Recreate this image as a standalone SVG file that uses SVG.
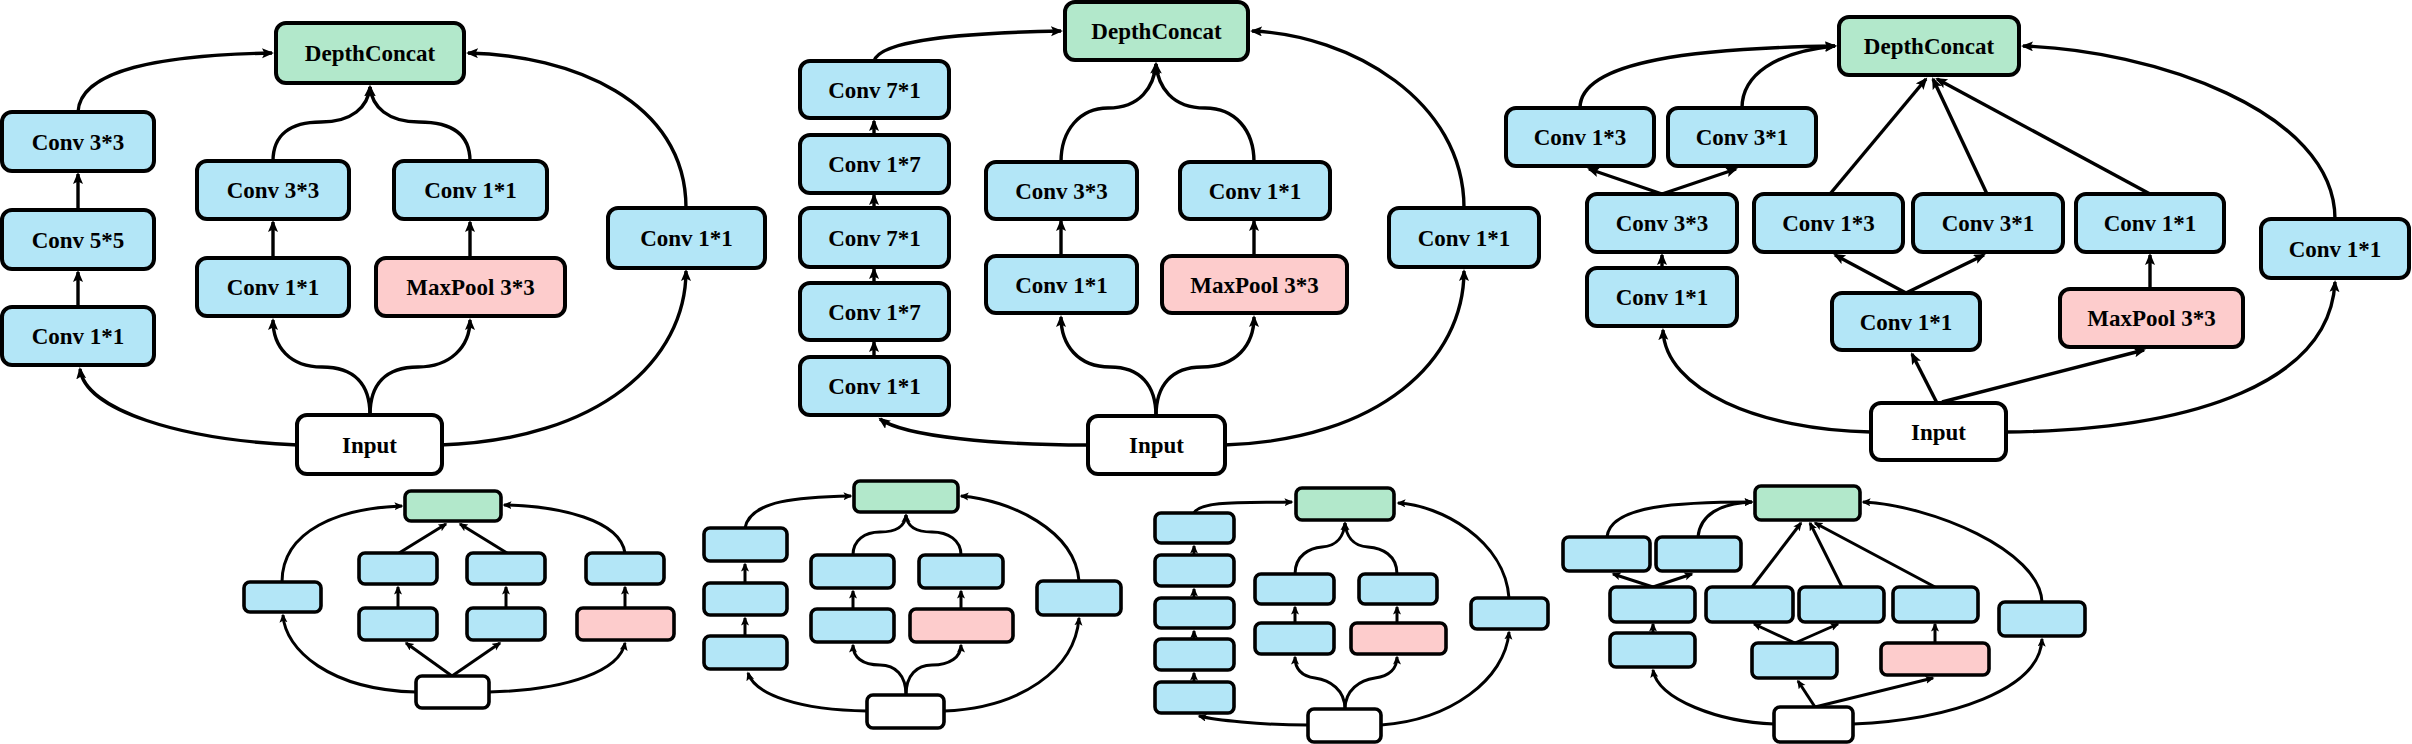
<svg xmlns="http://www.w3.org/2000/svg" width="2412" height="744" viewBox="0 0 2412 744">
<defs>
<marker id="a" markerUnits="userSpaceOnUse" markerWidth="13" markerHeight="11" refX="10" refY="5" orient="auto"><path d="M0,0 L12,5 L0,10 L2.5,5 z" fill="#000"/></marker>
<marker id="b" markerUnits="userSpaceOnUse" markerWidth="10" markerHeight="9" refX="7.5" refY="4" orient="auto"><path d="M0,0 L9,4 L0,8 L2,4 z" fill="#000"/></marker>
</defs>
<style>
.n rect{stroke:#000;stroke-width:4}
.s rect{stroke:#000;stroke-width:3.6}
.g{fill:#b2e8cb}.bl{fill:#b3e6f7}.pk{fill:#fdcccc}.w{fill:#fff}
text{font-family:"Liberation Serif","Times New Roman",serif;font-weight:bold;font-size:23px;text-anchor:middle;fill:#000}
.c path{fill:none;stroke:#000;stroke-width:3.4;marker-end:url(#a)}
.cs path{fill:none;stroke:#000;stroke-width:3;marker-end:url(#b)}
</style>

<!-- Diagram 1 -->
<g class="c" id="d1-connectors">
<path d="M78,112 C80,70 160,55 272,53"/>
<path d="M78,210 L78,174"/>
<path d="M78,307 L78,272"/>
<path d="M298,445 C180,440 85,410 80,369"/>
<path d="M370,415 C370,385 355,367 322,367 C290,367 273,347 273,320"/>
<path d="M370,415 C370,385 385,367 418,367 C450,367 470,347 470,320"/>
<path d="M273,258 L273,222"/>
<path d="M470,258 L470,222"/>
<path d="M273,161 C273,135 290,122 321,122 C352,122 368,107 370,87"/>
<path d="M470,161 C470,135 453,122 419,122 C388,122 372,107 370,87"/>
<path d="M440,445 C600,440 686,360 686,271"/>
<path d="M686,208 C686,100 570,55 468,53"/>
</g>
<g class="n" id="d1-concat"><rect class="g" x="276" y="23" width="188" height="60" rx="10"/><text x="370" y="61">DepthConcat</text></g>
<g class="n" id="d1-conv33a"><rect class="bl" x="2" y="112" width="152" height="59" rx="10"/><text x="78" y="149.5">Conv 3*3</text></g>
<g class="n" id="d1-conv55"><rect class="bl" x="2" y="210" width="152" height="59" rx="10"/><text x="78" y="247.5">Conv 5*5</text></g>
<g class="n" id="d1-conv11a"><rect class="bl" x="2" y="307" width="152" height="58" rx="10"/><text x="78" y="344">Conv 1*1</text></g>
<g class="n" id="d1-conv33b"><rect class="bl" x="197" y="161" width="152" height="58" rx="10"/><text x="273" y="198">Conv 3*3</text></g>
<g class="n" id="d1-conv11b"><rect class="bl" x="197" y="258" width="152" height="58" rx="10"/><text x="273" y="295">Conv 1*1</text></g>
<g class="n" id="d1-conv11c"><rect class="bl" x="394" y="161" width="153" height="58" rx="10"/><text x="470.5" y="198">Conv 1*1</text></g>
<g class="n" id="d1-maxpool"><rect class="pk" x="376" y="258" width="189" height="58" rx="10"/><text x="470.5" y="295">MaxPool 3*3</text></g>
<g class="n" id="d1-conv11d"><rect class="bl" x="608" y="208" width="157" height="60" rx="10"/><text x="686.5" y="246">Conv 1*1</text></g>
<g class="n" id="d1-input"><rect class="w" x="297" y="415" width="145" height="59" rx="10"/><text x="369.5" y="452.5">Input</text></g>

<!-- Diagram 2 -->
<g class="c" id="d2-connectors">
<path d="M874,61 C880,40 960,33 1061,31"/>
<path d="M874,135 L874,121"/>
<path d="M874,208 L874,195"/>
<path d="M874,283 L874,269"/>
<path d="M874,357 L874,342"/>
<path d="M1087,445 C1000,445 905,437 880,419"/>
<path d="M1156,416 C1156,385 1140,367 1110,367 C1078,367 1061,345 1061,317"/>
<path d="M1156,416 C1156,385 1172,367 1202,367 C1236,367 1254,345 1254,317"/>
<path d="M1061,256 L1061,221"/>
<path d="M1254,256 L1254,221"/>
<path d="M1061,162 C1061,130 1080,108 1108,108 C1140,108 1154,87 1156,64"/>
<path d="M1254,162 C1254,130 1235,108 1205,108 C1172,108 1158,87 1156,64"/>
<path d="M1224,445 C1380,440 1464,360 1464,271"/>
<path d="M1464,208 C1464,100 1350,35 1252,31"/>
</g>
<g class="n" id="d2-concat"><rect class="g" x="1065" y="2" width="183" height="58" rx="10"/><text x="1156.5" y="39">DepthConcat</text></g>
<g class="n" id="d2-conv71a"><rect class="bl" x="800" y="61" width="149" height="57" rx="10"/><text x="874.5" y="97.5">Conv 7*1</text></g>
<g class="n" id="d2-conv17a"><rect class="bl" x="800" y="135" width="149" height="58" rx="10"/><text x="874.5" y="172">Conv 1*7</text></g>
<g class="n" id="d2-conv71b"><rect class="bl" x="800" y="208" width="149" height="59" rx="10"/><text x="874.5" y="245.5">Conv 7*1</text></g>
<g class="n" id="d2-conv17b"><rect class="bl" x="800" y="283" width="149" height="57" rx="10"/><text x="874.5" y="319.5">Conv 1*7</text></g>
<g class="n" id="d2-conv11a"><rect class="bl" x="800" y="357" width="149" height="58" rx="10"/><text x="874.5" y="394">Conv 1*1</text></g>
<g class="n" id="d2-conv33"><rect class="bl" x="986" y="162" width="151" height="57" rx="10"/><text x="1061.5" y="198.5">Conv 3*3</text></g>
<g class="n" id="d2-conv11b"><rect class="bl" x="986" y="256" width="151" height="57" rx="10"/><text x="1061.5" y="292.5">Conv 1*1</text></g>
<g class="n" id="d2-conv11c"><rect class="bl" x="1180" y="162" width="150" height="57" rx="10"/><text x="1255" y="198.5">Conv 1*1</text></g>
<g class="n" id="d2-maxpool"><rect class="pk" x="1162" y="256" width="185" height="57" rx="10"/><text x="1254.5" y="292.5">MaxPool 3*3</text></g>
<g class="n" id="d2-conv11d"><rect class="bl" x="1389" y="208" width="150" height="59" rx="10"/><text x="1464" y="245.5">Conv 1*1</text></g>
<g class="n" id="d2-input"><rect class="w" x="1088" y="416" width="137" height="58" rx="10"/><text x="1156.5" y="453">Input</text></g>

<!-- Diagram 3 -->
<g class="c" id="d3-connectors">
<path d="M1580,108 C1580,60 1700,48 1835,46"/>
<path d="M1742,108 C1742,75 1775,52 1835,46"/>
<path d="M1662,194 L1589,169"/>
<path d="M1662,194 L1736,169"/>
<path d="M1662,268 L1662,255"/>
<path d="M1871,432 C1760,430 1665,390 1663,330"/>
<path d="M1937,403 L1912,354"/>
<path d="M1942,402 L2144,350"/>
<path d="M1906,293 L1835,255"/>
<path d="M1906,293 L1984,255"/>
<path d="M2150,289 L2150,255"/>
<path d="M1830,194 L1926,79"/>
<path d="M1987,194 L1933,79"/>
<path d="M2150,194 L1937,79"/>
<path d="M2006,432 C2200,430 2330,380 2335,282"/>
<path d="M2335,219 C2335,110 2150,50 2023,46"/>
</g>
<g class="n" id="d3-concat"><rect class="g" x="1839" y="17" width="180" height="58" rx="10"/><text x="1929" y="54">DepthConcat</text></g>
<g class="n" id="d3-conv13a"><rect class="bl" x="1506" y="108" width="148" height="58" rx="10"/><text x="1580" y="145">Conv 1*3</text></g>
<g class="n" id="d3-conv31a"><rect class="bl" x="1668" y="108" width="148" height="58" rx="10"/><text x="1742" y="145">Conv 3*1</text></g>
<g class="n" id="d3-conv33"><rect class="bl" x="1587" y="194" width="150" height="58" rx="10"/><text x="1662" y="231">Conv 3*3</text></g>
<g class="n" id="d3-conv11a"><rect class="bl" x="1587" y="268" width="150" height="58" rx="10"/><text x="1662" y="305">Conv 1*1</text></g>
<g class="n" id="d3-conv13b"><rect class="bl" x="1754" y="194" width="149" height="58" rx="10"/><text x="1828.5" y="231">Conv 1*3</text></g>
<g class="n" id="d3-conv31b"><rect class="bl" x="1913" y="194" width="150" height="58" rx="10"/><text x="1988" y="231">Conv 3*1</text></g>
<g class="n" id="d3-conv11b"><rect class="bl" x="2076" y="194" width="148" height="58" rx="10"/><text x="2150" y="231">Conv 1*1</text></g>
<g class="n" id="d3-conv11c"><rect class="bl" x="1832" y="293" width="148" height="57" rx="10"/><text x="1906" y="329.5">Conv 1*1</text></g>
<g class="n" id="d3-maxpool"><rect class="pk" x="2060" y="289" width="183" height="58" rx="10"/><text x="2151.5" y="326">MaxPool 3*3</text></g>
<g class="n" id="d3-conv11d"><rect class="bl" x="2261" y="219" width="148" height="59" rx="10"/><text x="2335" y="256.5">Conv 1*1</text></g>
<g class="n" id="d3-input"><rect class="w" x="1871" y="403" width="135" height="57" rx="10"/><text x="1938.5" y="439.5">Input</text></g>

<!-- Bottom A -->
<g class="cs" id="ba-connectors">
<path d="M282,582 C282,530 340,508 402,506"/>
<path d="M416,692 C330,690 285,650 283,615"/>
<path d="M452,676 L406,643"/>
<path d="M452,676 L500,643"/>
<path d="M398,608 L398,587"/>
<path d="M506,608 L506,587"/>
<path d="M625,608 L625,587"/>
<path d="M399,553 L446,524"/>
<path d="M507,553 L460,524"/>
<path d="M489,692 C570,690 620,670 625,643"/>
<path d="M625,553 C620,520 560,506 504,505"/>
</g>
<g class="s" id="ba-concat"><rect class="g" x="405" y="491" width="96" height="30" rx="6"/></g>
<g class="s" id="ba-n1"><rect class="bl" x="244" y="582" width="77" height="30" rx="6"/></g>
<g class="s" id="ba-n2"><rect class="bl" x="359" y="553" width="78" height="31" rx="6"/></g>
<g class="s" id="ba-n3"><rect class="bl" x="359" y="608" width="78" height="32" rx="6"/></g>
<g class="s" id="ba-n4"><rect class="bl" x="467" y="553" width="78" height="31" rx="6"/></g>
<g class="s" id="ba-n5"><rect class="bl" x="467" y="608" width="78" height="32" rx="6"/></g>
<g class="s" id="ba-n6"><rect class="bl" x="586" y="553" width="78" height="31" rx="6"/></g>
<g class="s" id="ba-n7"><rect class="pk" x="577" y="608" width="97" height="32" rx="6"/></g>
<g class="s" id="ba-input"><rect class="w" x="416" y="676" width="73" height="32" rx="6"/></g>

<!-- Bottom B -->
<g class="cs" id="bb-connectors">
<path d="M745,528 C750,500 800,497 851,496"/>
<path d="M745,583 L745,564"/>
<path d="M745,636 L745,618"/>
<path d="M867,711 C800,710 755,695 748,673"/>
<path d="M906,695 C906,675 895,665 880,665 C862,665 853,657 853,645"/>
<path d="M906,695 C906,675 917,665 932,665 C950,665 961,657 961,645"/>
<path d="M853,609 L853,591"/>
<path d="M961,609 L961,591"/>
<path d="M853,555 C853,540 865,532 880,532 C895,532 905,527 906,515"/>
<path d="M961,555 C961,540 948,532 932,532 C917,532 907,527 906,515"/>
<path d="M944,711 C1020,708 1075,670 1079,618"/>
<path d="M1079,581 C1075,530 1010,500 961,496"/>
</g>
<g class="s" id="bb-concat"><rect class="g" x="854" y="481" width="104" height="31" rx="6"/></g>
<g class="s" id="bb-n1"><rect class="bl" x="704" y="528" width="83" height="33" rx="6"/></g>
<g class="s" id="bb-n2"><rect class="bl" x="704" y="583" width="83" height="32" rx="6"/></g>
<g class="s" id="bb-n3"><rect class="bl" x="704" y="636" width="83" height="33" rx="6"/></g>
<g class="s" id="bb-n4"><rect class="bl" x="811" y="555" width="83" height="33" rx="6"/></g>
<g class="s" id="bb-n5"><rect class="bl" x="811" y="609" width="83" height="33" rx="6"/></g>
<g class="s" id="bb-n6"><rect class="bl" x="919" y="555" width="84" height="33" rx="6"/></g>
<g class="s" id="bb-n7"><rect class="pk" x="910" y="609" width="103" height="33" rx="6"/></g>
<g class="s" id="bb-n8"><rect class="bl" x="1037" y="581" width="84" height="34" rx="6"/></g>
<g class="s" id="bb-input"><rect class="w" x="867" y="695" width="77" height="33" rx="6"/></g>

<!-- Bottom C -->
<g class="cs" id="bc-connectors">
<path d="M1194,513 C1200,500 1250,503 1292,502"/>
<path d="M1194,555 L1194,546"/>
<path d="M1194,598 L1194,589"/>
<path d="M1194,639 L1194,631"/>
<path d="M1194,682 L1194,673"/>
<path d="M1308,725 C1260,725 1215,720 1199,716"/>
<path d="M1345,709 C1345,690 1330,680 1315,678 C1300,676 1295,668 1295,657"/>
<path d="M1345,709 C1345,690 1360,680 1375,678 C1390,676 1397,668 1397,657"/>
<path d="M1295,623 L1295,607"/>
<path d="M1397,623 L1397,607"/>
<path d="M1295,574 C1295,555 1310,548 1322,547 C1338,546 1344,535 1345,523"/>
<path d="M1397,574 C1397,555 1382,548 1368,547 C1352,546 1346,535 1345,523"/>
<path d="M1381,725 C1450,720 1505,680 1509,632"/>
<path d="M1509,598 C1505,540 1440,505 1398,503"/>
</g>
<g class="s" id="bc-concat"><rect class="g" x="1296" y="488" width="98" height="32" rx="6"/></g>
<g class="s" id="bc-n1"><rect class="bl" x="1155" y="513" width="79" height="30" rx="6"/></g>
<g class="s" id="bc-n2"><rect class="bl" x="1155" y="555" width="79" height="31" rx="6"/></g>
<g class="s" id="bc-n3"><rect class="bl" x="1155" y="598" width="79" height="30" rx="6"/></g>
<g class="s" id="bc-n4"><rect class="bl" x="1155" y="639" width="79" height="31" rx="6"/></g>
<g class="s" id="bc-n5"><rect class="bl" x="1155" y="682" width="79" height="31" rx="6"/></g>
<g class="s" id="bc-n6"><rect class="bl" x="1255" y="574" width="79" height="30" rx="6"/></g>
<g class="s" id="bc-n7"><rect class="bl" x="1255" y="623" width="79" height="31" rx="6"/></g>
<g class="s" id="bc-n8"><rect class="bl" x="1359" y="574" width="78" height="30" rx="6"/></g>
<g class="s" id="bc-n9"><rect class="pk" x="1351" y="623" width="95" height="31" rx="6"/></g>
<g class="s" id="bc-n10"><rect class="bl" x="1471" y="598" width="77" height="31" rx="6"/></g>
<g class="s" id="bc-input"><rect class="w" x="1308" y="709" width="73" height="33" rx="6"/></g>

<!-- Bottom D -->
<g class="cs" id="bd-connectors">
<path d="M1607,537 C1610,505 1680,502 1752,502"/>
<path d="M1698,537 C1700,515 1720,503 1752,502"/>
<path d="M1653,587 L1613,574"/>
<path d="M1653,587 L1692,574"/>
<path d="M1653,633 L1653,624"/>
<path d="M1774,724 C1720,722 1658,700 1653,670"/>
<path d="M1815,707 L1798,681"/>
<path d="M1815,707 L1933,678"/>
<path d="M1795,643 L1754,624"/>
<path d="M1795,643 L1838,624"/>
<path d="M1935,643 L1935,624"/>
<path d="M1752,587 L1801,523"/>
<path d="M1842,587 L1810,523"/>
<path d="M1935,587 L1815,523"/>
<path d="M1853,724 C1950,720 2040,690 2042,639"/>
<path d="M2042,602 C2040,550 1930,505 1863,502"/>
</g>
<g class="s" id="bd-concat"><rect class="g" x="1755" y="486" width="105" height="34" rx="6"/></g>
<g class="s" id="bd-n1"><rect class="bl" x="1563" y="537" width="87" height="34" rx="6"/></g>
<g class="s" id="bd-n2"><rect class="bl" x="1656" y="537" width="85" height="34" rx="6"/></g>
<g class="s" id="bd-n3"><rect class="bl" x="1610" y="587" width="85" height="35" rx="6"/></g>
<g class="s" id="bd-n4"><rect class="bl" x="1610" y="633" width="85" height="34" rx="6"/></g>
<g class="s" id="bd-n5"><rect class="bl" x="1706" y="587" width="87" height="35" rx="6"/></g>
<g class="s" id="bd-n6"><rect class="bl" x="1799" y="587" width="85" height="35" rx="6"/></g>
<g class="s" id="bd-n7"><rect class="bl" x="1893" y="587" width="85" height="35" rx="6"/></g>
<g class="s" id="bd-n8"><rect class="bl" x="1752" y="643" width="85" height="35" rx="6"/></g>
<g class="s" id="bd-n9"><rect class="pk" x="1881" y="643" width="108" height="32" rx="6"/></g>
<g class="s" id="bd-n10"><rect class="bl" x="1999" y="602" width="86" height="34" rx="6"/></g>
<g class="s" id="bd-input"><rect class="w" x="1774" y="707" width="79" height="35" rx="6"/></g>
</svg>
